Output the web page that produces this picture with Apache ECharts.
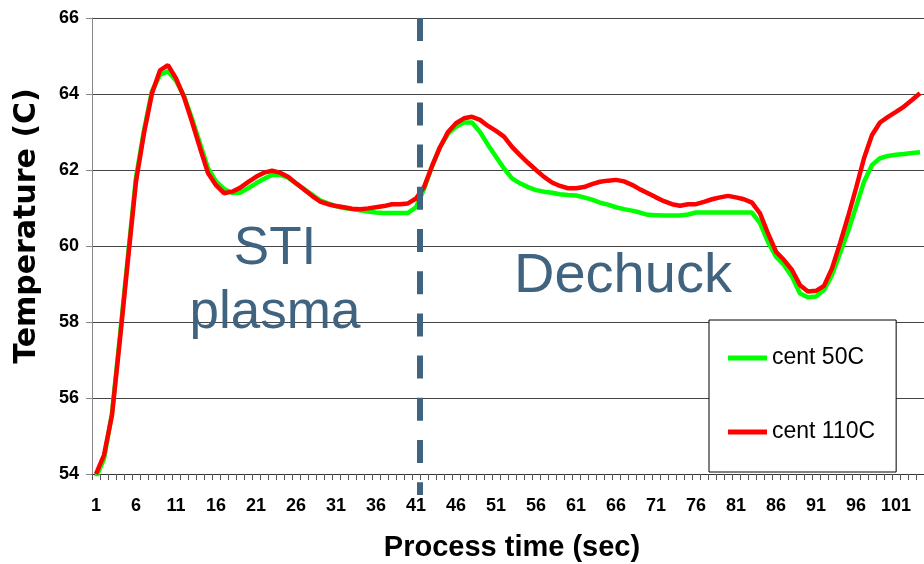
<!DOCTYPE html>
<html>
<head>
<meta charset="utf-8">
<script src="https://cdn.jsdelivr.net/npm/echarts@6/dist/echarts.min.js"></script>
<style>
html,body{margin:0;padding:0;background:#fff;}
#chart{width:924px;height:564px;}
</style>
</head>
<body>
<div id="chart"></div>
<script>
const categories = ['1','2','3','4','5','6','7','8','9','10','11','12','13','14','15','16','17','18','19','20',
'21','22','23','24','25','26','27','28','29','30','31','32','33','34','35','36','37','38','39','40',
'41','42','43','44','45','46','47','48','49','50','51','52','53','54','55','56','57','58','59','60',
'61','62','63','64','65','66','67','68','69','70','71','72','73','74','75','76','77','78','79','80',
'81','82','83','84','85','86','87','88','89','90','91','92','93','94','95','96','97','98','99','100',
'101','102','103','104'];

const cent50 = [53.9,54.4,55.6,57.65,59.75,61.8,63.05,64.08,64.5,64.6,
64.35,63.95,63.35,62.7,62.05,61.7,61.5,61.4,61.4,61.52,
61.65,61.77,61.87,61.87,61.8,61.65,61.5,61.35,61.2,61.12,
61.05,61.0,60.97,60.94,60.91,60.88,60.87,60.87,60.87,60.87,
61.02,61.5,62.1,62.6,62.95,63.14,63.25,63.25,63.0,62.66,
62.35,62.04,61.78,61.65,61.55,61.47,61.43,61.4,61.36,61.34,
61.33,61.28,61.22,61.14,61.09,61.02,60.97,60.93,60.88,60.82,
60.81,60.8,60.8,60.8,60.83,60.88,60.88,60.88,60.88,60.88,
60.88,60.88,60.88,60.6,60.11,59.72,59.5,59.19,58.75,58.65,
58.67,58.84,59.24,59.81,60.38,61.03,61.69,62.13,62.31,62.37,
62.4,62.42,62.45,62.47];

const cent110 = [54.0,54.5,55.55,57.55,59.65,61.7,62.97,64.02,64.62,64.76,
64.41,63.92,63.27,62.58,61.92,61.6,61.39,61.43,61.53,61.68,
61.82,61.93,61.98,61.93,61.82,61.65,61.49,61.32,61.17,61.1,
61.05,61.02,60.98,60.97,60.99,61.02,61.05,61.1,61.1,61.12,
61.25,61.55,62.1,62.6,63.0,63.23,63.36,63.4,63.32,63.16,
63.03,62.88,62.61,62.39,62.19,62.0,61.82,61.67,61.58,61.52,
61.52,61.55,61.63,61.69,61.72,61.74,61.7,61.61,61.49,61.39,
61.28,61.18,61.1,61.06,61.1,61.1,61.16,61.23,61.28,61.32,
61.28,61.23,61.14,60.86,60.33,59.85,59.63,59.37,58.97,58.8,
58.82,58.95,59.41,60.07,60.77,61.52,62.31,62.92,63.25,63.4,
63.53,63.67,63.84,64.02];

const seriesNames = ['cent 50C', 'cent 110C'];
const yMin = 54, yMax = 66, yStep = 2;
const phaseBoundary = '41';
const phaseLabels = ['STI\nplasma', 'Dechuck'];
const xTitle = 'Process time (sec)';
const yTitle = 'Temperature (C)';

const FONT = '"Liberation Sans", Arial, sans-serif';
const ANNO = '#40637f';

const chart = echarts.init(document.getElementById('chart'), null, {renderer: 'canvas'});
chart.setOption({
  backgroundColor: '#fff',
  animation: false,
  grid: {left: 92, right: -5, top: 18, bottom: 90, containLabel: false},
  legend: {
    left: 709, top: 320,
    orient: 'vertical',
    data: seriesNames,
    icon: 'rect',
    itemWidth: 39, itemHeight: 5,
    itemGap: 50,
    itemStyle: {borderWidth: 0},
    padding: [26, 21, 28, 19],
    backgroundColor: '#fff',
    borderColor: '#000', borderWidth: 1,
    textStyle: {fontFamily: FONT, fontSize: 23, color: '#000', lineHeight: 24},
    selectedMode: false
  },
  xAxis: {
    type: 'category',
    data: categories,
    boundaryGap: true,
    axisLine: {show: true, lineStyle: {color: '#333', width: 1}},
    axisTick: {show: true, interval: 0, length: 6, lineStyle: {color: '#555'}},
    axisLabel: {interval: 4, margin: 23, fontFamily: FONT, fontWeight: 'bold', fontSize: 18, color: '#000'},
    splitLine: {show: false}
  },
  yAxis: {
    type: 'value',
    min: yMin, max: yMax, interval: yStep,
    axisLine: {show: true, lineStyle: {color: '#888', width: 1}},
    axisTick: {show: true, length: 6, lineStyle: {color: '#888'}},
    axisLabel: {margin: 13, fontFamily: FONT, fontWeight: 'bold', fontSize: 18, color: '#000'},
    splitLine: {show: true, lineStyle: {color: '#444', width: 1}}
  },
  series: [
    {name: seriesNames[0], type: 'line', data: cent50, symbol: 'none', smooth: false,
     color: '#00ff00', lineStyle: {color: '#00ff00', width: 4.5}, z: 2},
    {name: seriesNames[1], type: 'line', data: cent110, symbol: 'none', smooth: false,
     color: '#ff0000', lineStyle: {color: '#ff0000', width: 4.5}, z: 3}
  ]
});

const xa = chart.convertToPixel({xAxisIndex: 0}, phaseBoundary);
const idx = categories.indexOf(phaseBoundary);
const xb = chart.convertToPixel({xAxisIndex: 0}, categories[idx + 1]);
const xLine = (xa + xb) / 2;
const yTop = chart.convertToPixel({yAxisIndex: 0}, yMax);
const yBottom = chart.convertToPixel({yAxisIndex: 0}, yMin);

chart.setOption({
  graphic: [
    {type: 'line', z: 10, shape: {x1: xLine, y1: yTop, x2: xLine, y2: yBottom + 21},
     style: {stroke: ANNO, lineWidth: 6, lineDash: [23, 19.2]}},
    {type: 'text', z: 5, x: 275, y: 281,
     style: {text: phaseLabels[0], fill: ANNO, font: '53px ' + FONT, align: 'center', verticalAlign: 'middle', lineHeight: 64}},
    {type: 'text', z: 5, x: 514, y: 277,
     style: {text: phaseLabels[1], fill: ANNO, font: '56px ' + FONT, align: 'left', verticalAlign: 'middle'}},
    {type: 'text', x: 512, y: 548,
     style: {text: xTitle, fill: '#000', font: 'bold 29px ' + FONT, align: 'center', verticalAlign: 'middle'}},
    {type: 'text', x: 27, y: 226, rotation: Math.PI / 2,
     style: {text: yTitle, fill: '#000', font: 'bold 30px "DejaVu Sans", sans-serif', align: 'center', verticalAlign: 'middle'}}
  ]
});
</script>
</body>
</html>
